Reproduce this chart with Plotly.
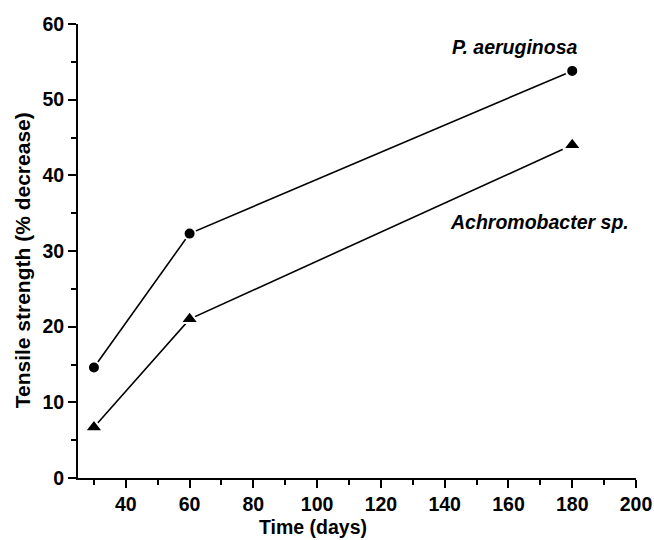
import plotly.graph_objects as go

days = [30, 60, 180]
p_aeruginosa = [14.6, 32.3, 53.8]
achromobacter = [6.7, 21.0, 44.0]
x_ticks = [40, 60, 80, 100, 120, 140, 160, 180, 200]
y_ticks = [0, 10, 20, 30, 40, 50, 60]

FONT = "Liberation Sans, Arial, sans-serif"

fig = go.Figure()
fig.add_trace(go.Scatter(
    x=days, y=p_aeruginosa, mode="lines+markers", name="P. aeruginosa",
    line=dict(color="black", width=1.6),
    marker=dict(symbol="circle", size=12, color="black", line=dict(color="white", width=2)),
    cliponaxis=False,
))
fig.add_trace(go.Scatter(
    x=days, y=achromobacter, mode="lines+markers", name="Achromobacter sp.",
    line=dict(color="black", width=1.6),
    marker=dict(symbol="triangle-up", size=16, color="black", line=dict(color="white", width=2)),
    cliponaxis=False,
))

fig.add_annotation(x=162, y=56.9, text="<b><i>P. aeruginosa</i></b>", showarrow=False,
                   xanchor="center", yanchor="middle", font=dict(family=FONT, size=19.5, color="black"))
fig.add_annotation(x=169.6, y=33.8, text="<b><i>Achromobacter sp.</i></b>", showarrow=False,
                   xanchor="center", yanchor="middle", font=dict(family=FONT, size=19.5, color="black"))

# axis titles placed as paper annotations to match reference placement
fig.add_annotation(xref="paper", yref="paper", x=(313 - 78) / 558, y=-(527 - 477.7) / 454,
                   text="<b>Time (days)</b>", showarrow=False, xanchor="center", yanchor="middle",
                   font=dict(family=FONT, size=19.5, color="black"))
fig.add_annotation(xref="paper", yref="paper", x=-(78 - 22) / 558, y=(477.7 - 260) / 454,
                   text="<b>Tensile strength (% decrease)</b>", showarrow=False, textangle=-90,
                   xanchor="center", yanchor="middle",
                   font=dict(family=FONT, size=21, color="black"))

fig.update_layout(
    width=654, height=540,
    margin=dict(l=78, r=18, t=24, b=62, autoexpand=False),
    paper_bgcolor="white", plot_bgcolor="white",
    showlegend=False,
    font=dict(family=FONT, color="black"),
)
fig.update_xaxes(
    range=[25, 200], tickvals=x_ticks, ticktext=[str(v) for v in x_ticks],
    automargin=False,
    showgrid=False, zeroline=False, showline=True, linecolor="black", linewidth=2,
    ticks="outside", ticklen=8, tickwidth=2, tickcolor="black",
    minor=dict(tickvals=[30, 50, 70, 90, 110, 130, 150, 170, 190], ticks="outside", ticklen=5, tickwidth=2, tickcolor="black"),
    tickfont=dict(family=FONT, size=19.5, color="black", weight="bold"),
)
fig.update_yaxes(
    range=[0, 60], tickvals=y_ticks, ticktext=[str(v) for v in y_ticks],
    automargin=False,
    showgrid=False, zeroline=False, showline=True, linecolor="black", linewidth=2,
    ticks="outside", ticklen=8, tickwidth=2, tickcolor="black",
    minor=dict(tickvals=[5, 15, 25, 35, 45, 55], ticks="outside", ticklen=5, tickwidth=2, tickcolor="black"),
    tickfont=dict(family=FONT, size=19.5, color="black", weight="bold"),
)

fig.write_html("out.html")
